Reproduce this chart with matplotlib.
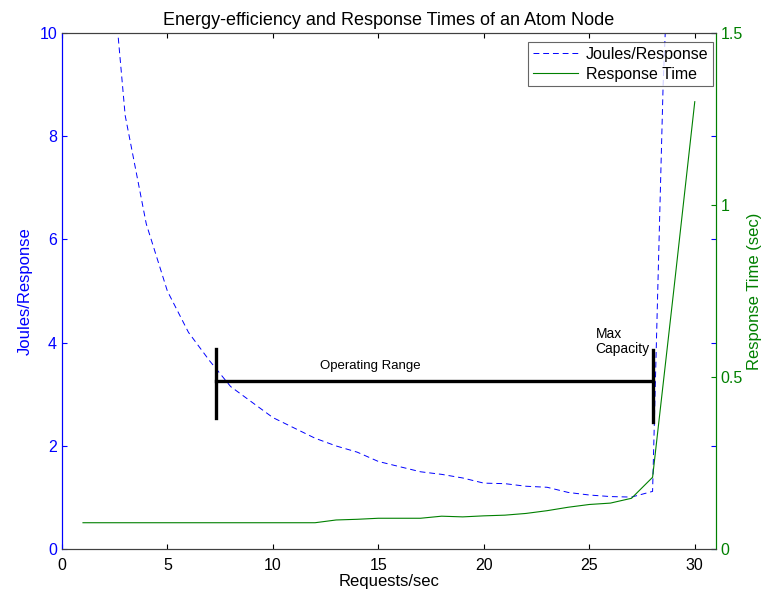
import matplotlib
matplotlib.use("Agg")
import matplotlib.pyplot as plt

plt.rcParams["font.family"] = ["Liberation Sans", "DejaVu Sans"]

# Joules per response (left axis)
joules_x = [1, 2, 3, 4, 5, 6, 7, 8, 9, 10, 11, 12, 13, 14, 15, 16, 17, 18, 19, 20,
            21, 22, 23, 24, 25, 26, 27, 28, 28.2, 28.5, 29]
joules_y = [26.0, 13.0, 8.4, 6.3, 5.0, 4.2, 3.65, 3.15, 2.85, 2.55, 2.35, 2.15, 2.0,
            1.88, 1.7, 1.6, 1.5, 1.45, 1.38, 1.28, 1.27, 1.22, 1.2, 1.1, 1.05, 1.02,
            1.01, 1.12, 4.3, 9.0, 14.0]

# Response time in seconds (right axis)
resp_x = list(range(1, 31))
resp_y = [0.077] * 12 + [0.085, 0.087, 0.09, 0.09, 0.09, 0.096, 0.094, 0.097, 0.099,
                         0.104, 0.112, 0.122, 0.13, 0.134, 0.148, 0.209, 0.75, 1.30]

range_start = 7.3
range_end = 28.0
range_level = 3.26

blue = (0, 0, 1)
green = (0, 0.5, 0)

fig = plt.figure(figsize=(7.64, 5.97), dpi=100)
ax1 = fig.add_axes([0.081, 0.080, 0.856, 0.865])
ax2 = ax1.twinx()

l1, = ax1.plot(joules_x, joules_y, "--", color=blue, lw=0.7, dashes=(6, 4),
               label="Joules/Response")
l2, = ax2.plot(resp_x, resp_y, "-", color=green, lw=0.8, label="Response Time")

# operating range bar
ax1.plot([range_start, range_end], [range_level, range_level], color="black", lw=2.4)
ax1.plot([range_start, range_start], [2.54, 3.88], color="black", lw=2.4)
ax1.plot([range_end, range_end], [2.46, 3.86], color="black", lw=2.4)
ax1.text(14.6, 3.55, "Operating Range", ha="center", va="center", fontsize=9.5)
ax1.text(25.3, 4.03, "Max\nCapacity", ha="left", va="center", fontsize=10,
         linespacing=1.1)

ax1.set_xlim(0, 31)
ax1.set_ylim(0, 10)
ax2.set_ylim(0, 1.5)
ax1.set_xticks([0, 5, 10, 15, 20, 25, 30])
ax1.set_yticks([0, 2, 4, 6, 8, 10])
ax2.set_yticks([0, 0.5, 1, 1.5])
ax2.set_yticklabels(["0", "0.5", "1", "1.5"])

ax1.tick_params(axis="x", direction="in", top=True, labelsize=11.5, colors="black",
                pad=6)
ax1.tick_params(axis="y", direction="in", right=True, colors=blue, labelsize=11.5)
ax2.tick_params(axis="y", direction="in", colors=green, labelsize=11.5)

for ax in (ax1, ax2):
    ax.spines["top"].set_color("#404040")
    ax.spines["bottom"].set_color("#404040")
    ax.spines["left"].set_color(blue)
    ax.spines["right"].set_color(green)

ax1.set_xlabel("Requests/sec", fontsize=12, labelpad=1)
ax1.set_ylabel("Joules/Response", fontsize=12, color=blue, labelpad=5)
ax2.set_ylabel("Response Time (sec)", fontsize=12, color=green, labelpad=3)
ax1.set_title("Energy-efficiency and Response Times of an Atom Node", fontsize=13,
              pad=6)

leg = ax2.legend([l1, l2], ["Joules/Response", "Response Time"], loc="upper right",
                 bbox_to_anchor=(0.9332, 0.9296), bbox_transform=fig.transFigure,
                 fontsize=11.5, fancybox=False, borderaxespad=0, handlelength=2.8,
                 borderpad=0.3, labelspacing=0.3, handletextpad=0.5)
leg.get_frame().set_edgecolor("#404040")
leg.get_frame().set_linewidth(0.8)

fig.savefig("out.png", dpi=100)
